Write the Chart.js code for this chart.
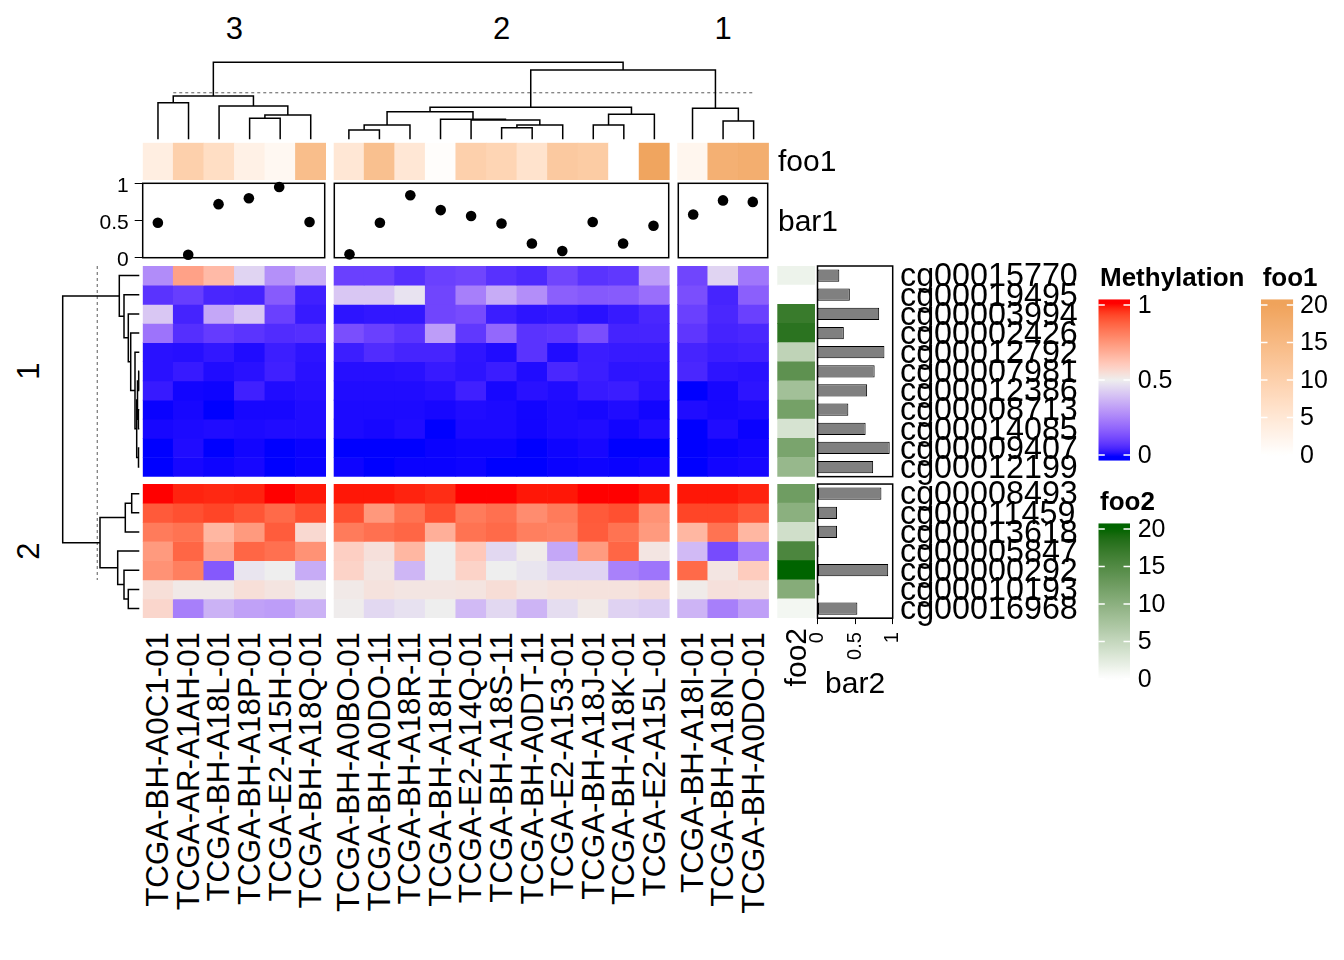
<!DOCTYPE html>
<html>
<head>
<meta charset="utf-8">
<script src="https://cdn.jsdelivr.net/npm/chart.js@4.4.1/dist/chart.umd.min.js"></script>
<style>
  body { margin: 0; background: #fff; }
  #page { position: relative; width: 1344px; height: 960px; overflow: hidden; font-family: "Liberation Sans", Arial, Helvetica, sans-serif; }
  .cell { position: absolute; }
  .txt { position: absolute; white-space: nowrap; color: #000; }
</style>
</head>
<body>
<div id="page"></div>
<script>
// ---- data ----
const samples = [
  'TCGA-BH-A0C1-01', 'TCGA-AR-A1AH-01', 'TCGA-BH-A18L-01', 'TCGA-BH-A18P-01', 'TCGA-E2-A15H-01', 'TCGA-BH-A18Q-01',
  'TCGA-BH-A0BO-01', 'TCGA-BH-A0DO-11', 'TCGA-BH-A18R-11', 'TCGA-BH-A18H-01', 'TCGA-E2-A14Q-01', 'TCGA-BH-A18S-11',
  'TCGA-BH-A0DT-11', 'TCGA-E2-A153-01', 'TCGA-BH-A18J-01', 'TCGA-BH-A18K-01', 'TCGA-E2-A15L-01',
  'TCGA-BH-A18I-01', 'TCGA-BH-A18N-01', 'TCGA-BH-A0DO-01'
];
const colSliceTitles = ['3', '2', '1'];
const colSliceSizes = [6, 11, 3];

const probes = [
  'cg00015770', 'cg00019495', 'cg00003994', 'cg00002426', 'cg00012792', 'cg00007981',
  'cg00012386', 'cg00008713', 'cg00014085', 'cg00009407', 'cg00012199',
  'cg00008493', 'cg00011459', 'cg00013618', 'cg00005847', 'cg00000292', 'cg00010193', 'cg00016968'
];
const rowSliceTitles = ['1', '2'];
const rowSliceSizes = [11, 7];

// methylation[row][column], rows and columns in the order drawn
const methylation = [
  [.27, .72, .65, .44, .28, .35, .095, .095, .06, .095, .105, .065, .05, .105, .068, .078, .31, .105, .44, .22],
  [.068, .09, .045, .04, .155, .035, .41, .41, .475, .105, .24, .345, .275, .165, .15, .155, .2, .125, .041, .165],
  [.41, .04, .335, .41, .095, .026, .018, .022, .022, .105, .12, .03, .018, .022, .015, .026, .046, .095, .046, .095],
  [.21, .06, .085, .07, .055, .06, .125, .095, .07, .31, .078, .185, .068, .075, .125, .04, .041, .075, .04, .046],
  [.015, .013, .022, .01, .031, .018, .031, .055, .041, .041, .019, .01, .068, .01, .03, .026, .026, .041, .03, .035],
  [.015, .026, .01, .015, .035, .015, .013, .013, .015, .026, .018, .03, .01, .046, .031, .018, .019, .046, .018, .015],
  [.026, .004, .003, .035, .01, .013, .01, .01, .01, .013, .035, .006, .015, .01, .026, .03, .015, 0, .006, .018],
  [.002, .006, 0, .006, .006, .01, .008, .008, .008, .006, .01, .008, .004, .008, .006, .01, .004, .01, .006, .008],
  [.006, .008, .01, .008, .01, .01, .008, .006, .01, 0, .008, .008, .004, .008, .01, .004, .01, 0, .01, .002],
  [0, .01, 0, .004, 0, .002, 0, 0, 0, .002, .003, .003, 0, .003, .006, 0, 0, 0, .002, .004],
  [0, .006, .003, .006, 0, .002, .003, 0, .002, .002, .003, 0, 0, .002, .003, .002, .004, 0, .004, .006],
  [1, .98, .975, .98, 1, .99, .99, .99, .98, .97, 1, 1, .99, .99, 1, 1, .99, .99, .99, .98],
  [.895, .915, .935, .905, .86, .915, .915, .745, .84, .915, .82, .845, .775, .82, .895, .915, .76, .935, .935, .895],
  [.82, .84, .66, .74, .89, .56, .82, .845, .87, .68, .84, .86, .81, .8, .89, .84, .74, .66, .84, .66],
  [.74, .87, .71, .87, .845, .76, .59, .54, .66, .5, .61, .45, .51, .335, .735, .87, .525, .38, .12, .24],
  [.76, .81, .15, .48, .5, .345, .58, .525, .37, .5, .58, .5, .48, .44, .44, .245, .215, .86, .525, .6],
  [.545, .515, .515, .545, .53, .505, .515, .535, .525, .525, .53, .55, .525, .535, .535, .535, .55, .51, .54, .535],
  [.57, .24, .36, .32, .31, .36, .505, .45, .47, .5, .38, .45, .365, .46, .515, .435, .42, .365, .24, .315]
];

const foo1 = [3.5, 10, 7, 3, 1.5, 14, 5, 13.5, 5, 0.5, 10, 9, 6, 11.5, 11, 0, 19.5, 2, 17, 17.5];
const bar1 = [.47, .04, .72, .80, .95, .48, .045, .47, .84, .64, .56, .46, .19, .09, .48, .19, .43, .58, .77, .75];
const foo2 = [1.5, 0, 17, 18, 5.5, 14, 8, 12, 3.5, 11.5, 9, 12.5, 10, 4, 15.5, 20, 10.5, 1];
const bar2 = [.29, .43, .82, .35, .89, .76, .66, .41, .64, .96, .74, .85, .26, .26, .015, .94, .025, .53];

// dendrograms, hclust style: negative = leaf (1-based), positive = earlier merge; third value = height
const colMerge = [
  [-1, -2, 36.6], [-4, -5, 21], [2, -6, 24.3], [-3, 3, 33.3], [1, 4, 43.3],
  [-7, -8, 9.3], [6, -9, 14.3], [-12, -13, 11.6], [8, -14, 14.3], [-11, 9, 19.3], [-10, 10, 20], [7, 11, 27.6],
  [-15, -16, 14.3], [13, -17, 25], [12, 14, 32],
  [-19, -20, 18.3], [-18, 16, 31], [15, 17, 69.3], [5, 18, 77]
];
const rowMerge = [
  [-6, -7, 0.6], [-8, -9, 0.9], [1, 2, 1.8], [-10, -11, 0.8], [3, 4, 2.6], [-5, 5, 4.3],
  [-4, 6, 8.6], [-3, 7, 11], [-2, 8, 15.3], [-1, 9, 20],
  [-12, -13, 7.6], [11, -14, 14], [-17, -18, 11], [-16, 13, 15.3], [-15, 14, 21.6], [12, 15, 39.3], [10, 16, 76.6]
];
const colCut = 46.6;
const rowCut = 42;

const methylTicks = [0, 0.5, 1];
const fooTicks = [0, 5, 10, 15, 20];
const bar1Ticks = [0, 0.5, 1];
const bar2Ticks = [0, 0.5, 1];

// ---- colours (LAB interpolation like colorRamp2) ----
function hexRgb(h) { const n = parseInt(h.slice(1), 16); return [n >> 16 & 255, n >> 8 & 255, n & 255]; }
function toLab([r, g, b]) {
  const lin = c => { c /= 255; return c <= 0.04045 ? c / 12.92 : Math.pow((c + 0.055) / 1.055, 2.4); };
  const R = lin(r), G = lin(g), B = lin(b);
  const X = (0.4124564 * R + 0.3575761 * G + 0.1804375 * B) / 0.95047;
  const Y = 0.2126729 * R + 0.7151522 * G + 0.0721750 * B;
  const Z = (0.0193339 * R + 0.1191920 * G + 0.9503041 * B) / 1.08883;
  const f = t => t > 0.008856 ? Math.cbrt(t) : 7.787 * t + 16 / 116;
  return [116 * f(Y) - 16, 500 * (f(X) - f(Y)), 200 * (f(Y) - f(Z))];
}
function fromLab([L, a, b]) {
  const fy = (L + 16) / 116, fx = fy + a / 500, fz = fy - b / 200;
  const inv = t => t * t * t > 0.008856 ? t * t * t : (t - 16 / 116) / 7.787;
  const X = inv(fx) * 0.95047, Y = inv(fy), Z = inv(fz) * 1.08883;
  const R = 3.2404542 * X - 1.5371385 * Y - 0.4985314 * Z;
  const G = -0.9692660 * X + 1.8760108 * Y + 0.0415560 * Z;
  const B = 0.0556434 * X - 0.2040259 * Y + 1.0572252 * Z;
  const gam = c => { c = Math.max(0, c); c = c <= 0.0031308 ? 12.92 * c : 1.055 * Math.pow(c, 1 / 2.4) - 0.055; return Math.round(Math.min(1, c) * 255); };
  return 'rgb(' + gam(R) + ',' + gam(G) + ',' + gam(B) + ')';
}
function ramp(breaks, colors) {
  const labs = colors.map(c => toLab(hexRgb(c)));
  return v => {
    v = Math.min(Math.max(v, breaks[0]), breaks[breaks.length - 1]);
    let i = 0;
    while (i < breaks.length - 2 && v > breaks[i + 1]) i++;
    const t = (v - breaks[i]) / (breaks[i + 1] - breaks[i]);
    return fromLab(labs[i].map((c, k) => c + t * (labs[i + 1][k] - c)));
  };
}
const methylColor = ramp([0, 0.5, 1], ['#0000FF', '#EEEEEE', '#FF0000']);
const foo1Color = ramp([0, 20], ['#FFFFFF', '#EFA35B']);
const foo2Color = ramp([0, 20], ['#FFFFFF', '#006400']);

// ---- layout (px) ----
const HM_LEFT = 142.7, COL_W = 30.55, COL_GAP = 7.6;
const HM_TOP = 266, ROW_H = 19.15, ROW_GAP = 7.4;
const DEND_SPAN = 80, DEND_BASE_Y = 139.3, DEND_BASE_X = 139.3;
const FOO1_TOP = 142.7, FOO1_H = 37.3;
const BAR1_TOP = 183.3, BAR1_H = 74.4;
const FOO2_LEFT = 777.3, FOO2_W = 37.7;
const BAR2_LEFT = 817.5, BAR2_W = 75.2;
const colCutSpan = [1.0, 20.04];
const rowCutSpan = [0, 16.4];

const FONT = '"Liberation Sans", Arial, Helvetica, sans-serif';
Chart.defaults.font.family = FONT;
Chart.defaults.color = '#000';
const page = document.getElementById('page');

function offsets(sizes, unit, gap) { let acc = 0; return sizes.map(n => { const o = acc; acc += n * unit + gap; return o; }); }
function sliceIdx(sizes) { let s = 0; return sizes.map(n => { const a = Array.from({ length: n }, (_, k) => s + k); s += n; return a; }); }
const colOff = offsets(colSliceSizes, COL_W, COL_GAP);
const rowOff = offsets(rowSliceSizes, ROW_H, ROW_GAP);
const HM_W = colOff[2] + colSliceSizes[2] * COL_W;
const HM_H = rowOff[1] + rowSliceSizes[1] * ROW_H;
const colSlices = sliceIdx(colSliceSizes), rowSlices = sliceIdx(rowSliceSizes);
const colLeaf = [], rowLeaf = [];
colSlices.forEach((idx, g) => idx.forEach((i, k) => { colLeaf[i] = colOff[g] / COL_W + k + 0.5; }));
rowSlices.forEach((idx, g) => idx.forEach((i, k) => { rowLeaf[i] = rowOff[g] / ROW_H + k + 0.5; }));

// chart in a div so that its chart area lands on `area`
function makeChart(area, pad, axis, config) {
  pad = Object.assign({ l: 0, t: 0, r: 0, b: 0 }, pad);
  axis = Object.assign({ l: 0, t: 0, r: 0, b: 0 }, axis);
  const left = Math.floor(area.x - pad.l - axis.l), top = Math.floor(area.y - pad.t - axis.t);
  const right = Math.ceil(area.x + area.w + pad.r + axis.r), bottom = Math.ceil(area.y + area.h + pad.b + axis.b);
  const el = document.createElement('div');
  el.className = 'cell';
  el.style.left = left + 'px'; el.style.top = top + 'px';
  el.style.width = (right - left) + 'px'; el.style.height = (bottom - top) + 'px';
  const cv = document.createElement('canvas');
  el.appendChild(cv);
  page.appendChild(el);
  const o = config.options || {};
  o.responsive = true; o.maintainAspectRatio = false; o.animation = false; o.events = [];
  o.layout = { padding: {
    left: area.x - axis.l - left, top: area.y - axis.t - top,
    right: right - axis.r - area.x - area.w, bottom: bottom - axis.b - area.y - area.h } };
  o.plugins = Object.assign({ legend: { display: false }, tooltip: { enabled: false } }, o.plugins || {});
  config.options = o;
  return new Chart(cv, config);
}

const frame = {
  id: 'frame',
  afterDatasetsDraw(chart) {
    const { ctx, chartArea: a } = chart;
    ctx.save();
    ctx.strokeStyle = '#000'; ctx.lineWidth = 1.5;
    ctx.strokeRect(a.left, a.top, a.right - a.left, a.bottom - a.top);
    ctx.restore();
  }
};
const tickDashes = ticks => ({
  id: 'dashes',
  afterDatasetsDraw(chart) {
    const { ctx, chartArea: a, scales: { y } } = chart;
    ctx.save();
    ctx.strokeStyle = '#fff'; ctx.lineWidth = 1.5;
    ticks.forEach(v => {
      const py = y.getPixelForValue(v);
      ctx.beginPath();
      ctx.moveTo(a.left, py); ctx.lineTo(a.left + 6.5, py);
      ctx.moveTo(a.right - 6.5, py); ctx.lineTo(a.right, py);
      ctx.stroke();
    });
    ctx.restore();
  }
});
const fixedTicks = list => s => { s.ticks = list.map(v => ({ value: v })); };

// ---- heatmap slices ----
colSlices.forEach((cols, g) => rowSlices.forEach((rows, r) => {
  makeChart({ x: HM_LEFT + colOff[g], y: HM_TOP + rowOff[r], w: cols.length * COL_W, h: rows.length * ROW_H }, {}, {}, {
    type: 'bar',
    data: {
      labels: cols.map(i => samples[i]),
      datasets: rows.map((ri, k) => ({
        data: cols.map(() => [k, k + 1]),
        backgroundColor: cols.map(ci => methylColor(methylation[ri][ci])),
        grouped: false, barPercentage: 1, categoryPercentage: 1, borderWidth: 0
      }))
    },
    options: { scales: { x: { display: false }, y: { display: false, min: 0, max: rows.length, reverse: true } } }
  });
}));

// ---- foo1 ----
colSlices.forEach((cols, g) => {
  makeChart({ x: HM_LEFT + colOff[g], y: FOO1_TOP, w: cols.length * COL_W, h: FOO1_H }, {}, {}, {
    type: 'bar',
    data: {
      labels: cols.map(i => samples[i]),
      datasets: [{ data: cols.map(() => [0, 1]), backgroundColor: cols.map(i => foo1Color(foo1[i])),
        barPercentage: 1, categoryPercentage: 1, borderWidth: 0 }]
    },
    options: { scales: { x: { display: false }, y: { display: false, min: 0, max: 1 } } }
  });
});

// ---- bar1 (points) ----
colSlices.forEach((cols, g) => {
  const first = g === 0;
  makeChart({ x: HM_LEFT + colOff[g], y: BAR1_TOP, w: cols.length * COL_W, h: BAR1_H },
    { l: first ? 0 : 4, t: 22, r: 4, b: 22 }, { l: first ? 55 : 0 }, {
    type: 'line',
    data: {
      labels: cols.map(i => samples[i]),
      datasets: [{ data: cols.map(i => bar1[i]), showLine: false, pointRadius: 5.3,
        pointBackgroundColor: '#000', pointBorderWidth: 0, clip: false }]
    },
    options: { scales: {
      x: { display: false, offset: true },
      y: first ? {
        min: 0, max: 1, afterBuildTicks: fixedTicks(bar1Ticks), afterFit: s => { s.width = 55; },
        ticks: { callback: v => String(v), font: { size: 21 }, padding: 6, labelOffset: 3 },
        grid: { drawOnChartArea: false, tickLength: 8, color: '#000' },
        border: { color: '#000' }
      } : { display: false, min: 0, max: 1 }
    } },
    plugins: [frame]
  });
});

// ---- foo2 ----
rowSlices.forEach((rows, r) => {
  makeChart({ x: FOO2_LEFT, y: HM_TOP + rowOff[r], w: FOO2_W, h: rows.length * ROW_H }, {}, {}, {
    type: 'bar',
    data: {
      labels: rows.map(i => probes[i]),
      datasets: [{ data: rows.map(() => [0, 1]), backgroundColor: rows.map(i => foo2Color(foo2[i])),
        barPercentage: 1, categoryPercentage: 1, borderWidth: 0 }]
    },
    options: { indexAxis: 'y', scales: { y: { display: false }, x: { display: false, min: 0, max: 1 } } }
  });
});

// ---- bar2 ----
rowSlices.forEach((rows, r) => {
  const last = r === rowSlices.length - 1;
  makeChart({ x: BAR2_LEFT, y: HM_TOP + rowOff[r], w: BAR2_W, h: rows.length * ROW_H },
    { l: 36, t: 2, r: 36, b: 2 }, { b: last ? 50 : 0 }, {
    type: 'bar',
    data: {
      labels: rows.map(i => probes[i]),
      datasets: [{ data: rows.map(i => bar2[i]), backgroundColor: '#808080', borderColor: '#000', borderWidth: 1,
        borderSkipped: false, barPercentage: 0.64, categoryPercentage: 1 }]
    },
    options: { indexAxis: 'y', scales: {
      y: { display: false },
      x: last ? {
        min: 0, max: 1, afterBuildTicks: fixedTicks(bar2Ticks), afterFit: s => { s.height = 50; },
        ticks: { minRotation: 90, maxRotation: 90, callback: v => String(v), font: { size: 20 }, padding: 8 },
        grid: { drawOnChartArea: false, tickLength: 6, color: '#000' },
        border: { color: '#000' }
      } : { display: false, min: 0, max: 1 }
    } },
    plugins: [frame]
  });
});

// ---- dendrograms ----
function dendro(merge, leaf) {
  const pos = [], hgt = [];
  const node = id => id < 0 ? [leaf[-id - 1], 0] : [pos[id - 1], hgt[id - 1]];
  return merge.map(([a, b, h], j) => {
    const [pa, ha] = node(a), [pb, hb] = node(b);
    pos[j] = (pa + pb) / 2; hgt[j] = h;
    return [[pa, ha], [pa, h], [pb, h], [pb, hb]];
  });
}
const lineDs = pts => ({ data: pts, showLine: true, pointRadius: 0, borderColor: '#000', borderWidth: 1.5, clip: false });
const cutDs = pts => ({ data: pts, showLine: true, pointRadius: 0, borderColor: '#808080', borderWidth: 1.3, borderDash: [3, 3], clip: false });

makeChart({ x: HM_LEFT, y: DEND_BASE_Y - DEND_SPAN, w: HM_W, h: DEND_SPAN }, { l: 4, t: 4, r: 4, b: 2 }, {}, {
  type: 'scatter',
  data: { datasets: [
    ...dendro(colMerge, colLeaf).map(seg => lineDs(seg.map(([p, h]) => ({ x: p, y: h })))),
    cutDs([{ x: colCutSpan[0], y: colCut }, { x: colCutSpan[1], y: colCut }])
  ] },
  options: { scales: { x: { display: false, min: 0, max: HM_W / COL_W }, y: { display: false, min: 0, max: DEND_SPAN } } }
});

makeChart({ x: DEND_BASE_X - DEND_SPAN, y: HM_TOP, w: DEND_SPAN, h: HM_H }, { l: 4, t: 4, r: 2, b: 4 }, {}, {
  type: 'scatter',
  data: { datasets: [
    ...dendro(rowMerge, rowLeaf).map(seg => lineDs(seg.map(([p, h]) => ({ x: h, y: p })))),
    cutDs([{ x: rowCut, y: rowCutSpan[0] }, { x: rowCut, y: rowCutSpan[1] }])
  ] },
  options: { scales: { x: { display: false, min: 0, max: DEND_SPAN, reverse: true }, y: { display: false, min: 0, max: HM_H / ROW_H, reverse: true } } }
});

// ---- legends ----
function legendBar(area, lo, hi, ticks, colorFn, labelPad) {
  makeChart(area, { l: 2, t: 30, r: 2, b: 30 }, { r: 60 }, {
    type: 'bar',
    data: { labels: [''], datasets: [{
      data: [[lo, hi]], barPercentage: 1, categoryPercentage: 1, borderWidth: 0, inflateAmount: 0,
      backgroundColor: ctx => {
        const ch = ctx.chart, y = ch.scales.y;
        if (!ch.chartArea || !y) return '#fff';
        const gr = ch.ctx.createLinearGradient(0, y.getPixelForValue(lo), 0, y.getPixelForValue(hi));
        for (let s = 0; s <= 40; s++) gr.addColorStop(s / 40, colorFn(lo + (hi - lo) * s / 40));
        return gr;
      }
    }] },
    options: { scales: {
      x: { display: false },
      y: { position: 'right', min: lo, max: hi, afterBuildTicks: fixedTicks(ticks), afterFit: s => { s.width = 60; },
        ticks: { callback: v => String(v), font: { size: 25 }, padding: labelPad, labelOffset: 1 },
        grid: { display: false, drawTicks: false }, border: { display: false } }
    } },
    plugins: [tickDashes(ticks)]
  });
}
legendBar({ x: 1098.3, y: 299.3, w: 31.7, h: 161.4 }, -0.038, 1.038, methylTicks, methylColor, 7.7);
legendBar({ x: 1261, y: 299.3, w: 32.3, h: 161.4 }, -0.76, 20.76, fooTicks, foo1Color, 6.7);
legendBar({ x: 1098.3, y: 523.3, w: 31.7, h: 161.4 }, -0.76, 20.76, fooTicks, foo2Color, 7.7);

// ---- text ----
function text(str, x, y, size, opt = {}) {
  const el = document.createElement('div');
  el.className = 'txt';
  el.textContent = str;
  el.style.fontSize = size + 'px';
  el.style.lineHeight = size + 'px';
  if (opt.bold) el.style.fontWeight = 'bold';
  if (opt.rotate) {
    const W = 400;
    el.style.width = W + 'px';
    el.style.textAlign = opt.center ? 'center' : 'right';
    el.style.left = (x - size / 2) + 'px';
    el.style.top = (y + (opt.center ? W / 2 : W)) + 'px';
    el.style.transformOrigin = '0 0';
    el.style.transform = 'rotate(-90deg)';
  } else {
    el.style.top = (y - size / 2) + 'px';
    el.style.left = x + 'px';
    if (opt.center) el.style.transform = 'translateX(-50%)';
  }
  page.appendChild(el);
}

colSlices.forEach((cols, g) => {
  text(colSliceTitles[g], HM_LEFT + colOff[g] + cols.length * COL_W / 2, 28, 31, { center: true });
  cols.forEach((i, k) => text(samples[i], HM_LEFT + colOff[g] + (k + 0.5) * COL_W, 632, 31.3, { rotate: true }));
});
rowSlices.forEach((rows, r) => {
  text(rowSliceTitles[r], 28, HM_TOP + rowOff[r] + rows.length * ROW_H / 2, 31, { rotate: true, center: true });
  rows.forEach((i, k) => text(probes[i], 900, HM_TOP + rowOff[r] + (k + 0.5) * ROW_H, 32.3));
});
text('foo1', 778, FOO1_TOP + FOO1_H / 2, 30);
text('bar1', 778, BAR1_TOP + BAR1_H / 2, 30);
text('foo2', FOO2_LEFT + FOO2_W / 2, 628, 30, { rotate: true });
text('bar2', BAR2_LEFT + BAR2_W / 2, 683, 30, { center: true });
text('Methylation', 1100, 277, 26, { bold: true });
text('foo1', 1262.7, 277, 26, { bold: true });
text('foo2', 1100, 501, 26, { bold: true });
</script>
</body>
</html>
